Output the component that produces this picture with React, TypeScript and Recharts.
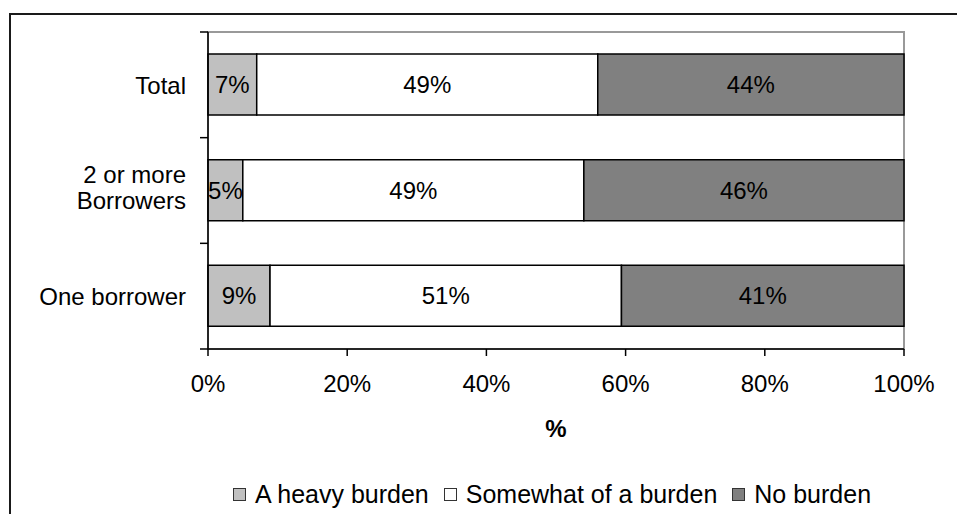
import React from "react";
import {
  BarChart,
  Bar,
  XAxis,
  YAxis,
  Label,
  ReferenceArea,
} from "recharts";

const categories = ["Total", "2 or more\nBorrowers", "One borrower"];
const heavyBurden = [7, 5, 9];
const somewhatBurden = [49, 49, 51];
const noBurden = [44, 46, 41];
const xTicks = [0, 0.2, 0.4, 0.6, 0.8, 1];

const series = [
  { key: "heavy", name: "A heavy burden", values: heavyBurden, color: "#c0c0c0" },
  { key: "somewhat", name: "Somewhat of a burden", values: somewhatBurden, color: "#ffffff" },
  { key: "none", name: "No burden", values: noBurden, color: "#808080" },
];

const data = categories.map((name, i) => ({
  name,
  heavy: heavyBurden[i],
  somewhat: somewhatBurden[i],
  none: noBurden[i],
}));

const FONT = '"Liberation Sans", Arial, Helvetica, sans-serif';
const WIDTH = 957;
const HEIGHT = 514;
const PLOT_LEFT = 208;
const PLOT_TOP = 32;
const PLOT_RIGHT = 904;
const PLOT_BOTTOM = 349;
const BAND = (PLOT_BOTTOM - PLOT_TOP) / categories.length;

// category name (may wrap) plus the tick marks that sit on band edges
const CategoryTick = (props: any) => {
  const { x, y, payload, index } = props;
  const lines = String(payload.value).split("\n");
  const lh = 26;
  const y0 = lines.length > 1 ? y - ((lines.length - 1) * lh) / 2 - 4 : y;
  const top = y - BAND / 2;
  const bottom = y + BAND / 2;
  return (
    <g>
      <text
        x={x}
        y={y0}
        textAnchor="end"
        dominantBaseline="central"
        fontSize={24}
        fontFamily={FONT}
        fill="#000"
      >
        {lines.map((line, i) => (
          <tspan key={i} x={x} dy={i === 0 ? 0 : lh}>
            {line}
          </tspan>
        ))}
      </text>
      <line x1={PLOT_LEFT - 8} x2={PLOT_LEFT} y1={top} y2={top} stroke="#000" strokeWidth={1.5} />
      {index === categories.length - 1 && (
        <line x1={PLOT_LEFT - 8} x2={PLOT_LEFT} y1={bottom} y2={bottom} stroke="#000" strokeWidth={1.5} />
      )}
    </g>
  );
};

const segmentLabel = (values: number[]) => (props: any) => {
  const { x, y, width, height, index } = props;
  return (
    <text
      x={Number(x) + Number(width) / 2}
      y={Number(y) + Number(height) / 2}
      textAnchor="middle"
      dominantBaseline="central"
      fontSize={24}
      fontFamily={FONT}
      fill="#000"
    >
      {values[index]}%
    </text>
  );
};

export default function App() {
  return (
    <div
      style={{
        position: "absolute",
        left: 0,
        top: 0,
        width: WIDTH,
        height: HEIGHT,
        overflow: "hidden",
        background: "#fff",
        fontFamily: FONT,
      }}
    >
      <div
        style={{
          position: "absolute",
          left: 9,
          top: 13,
          width: WIDTH,
          height: HEIGHT,
          border: "2px solid #1a1a1a",
        }}
      />
      <div style={{ position: "absolute", left: 0, top: 0 }}>
        <BarChart
          width={WIDTH}
          height={HEIGHT}
          data={data}
          layout="vertical"
          stackOffset="expand"
          margin={{ top: PLOT_TOP, right: WIDTH - PLOT_RIGHT, bottom: HEIGHT - PLOT_BOTTOM - 120, left: 0 }}
        >
          <ReferenceArea x1={0} x2={1} fill="none" stroke="#999" strokeWidth={2} ifOverflow="visible" />
          <XAxis
            type="number"
            domain={[0, 1]}
            ticks={xTicks}
            tickFormatter={(v) => `${Math.round(v * 100)}%`}
            height={120}
            tickSize={7}
            tickMargin={19}
            axisLine={{ stroke: "#000", strokeWidth: 1.5 }}
            tickLine={{ stroke: "#000", strokeWidth: 1.5 }}
            tick={{ fill: "#000", fontSize: 24, fontFamily: FONT }}
          >
            <Label
              value="%"
              position="insideBottom"
              offset={32}
              fontSize={24}
              fontWeight="bold"
              fontFamily={FONT}
              fill="#000"
            />
          </XAxis>
          <YAxis
            type="category"
            dataKey="name"
            width={PLOT_LEFT}
            tickSize={8}
            tickMargin={14}
            tickLine={false}
            interval={0}
            axisLine={{ stroke: "#000", strokeWidth: 1.5 }}
            tick={<CategoryTick />}
          />
          {series.map((s) => (
            <Bar
              key={s.key}
              dataKey={s.key}
              name={s.name}
              stackId="burden"
              fill={s.color}
              stroke="#000"
              strokeWidth={1.5}
              barSize={61}
              isAnimationActive={false}
              label={segmentLabel(s.values)}
            />
          ))}
        </BarChart>
      </div>
      <div
        style={{
          position: "absolute",
          left: 233,
          top: 480,
          display: "flex",
          alignItems: "center",
          fontSize: 25,
          color: "#000",
          whiteSpace: "nowrap",
        }}
      >
        {series.map((s, i) => (
          <div
            key={s.key}
            style={{ display: "flex", alignItems: "center", marginRight: i < series.length - 1 ? 15 : 0 }}
          >
            <span
              style={{
                display: "inline-block",
                width: 11,
                height: 11,
                background: s.color,
                border: "1.5px solid #333",
                marginRight: 9,
              }}
            />
            <span>{s.name}</span>
          </div>
        ))}
      </div>
    </div>
  );
}
